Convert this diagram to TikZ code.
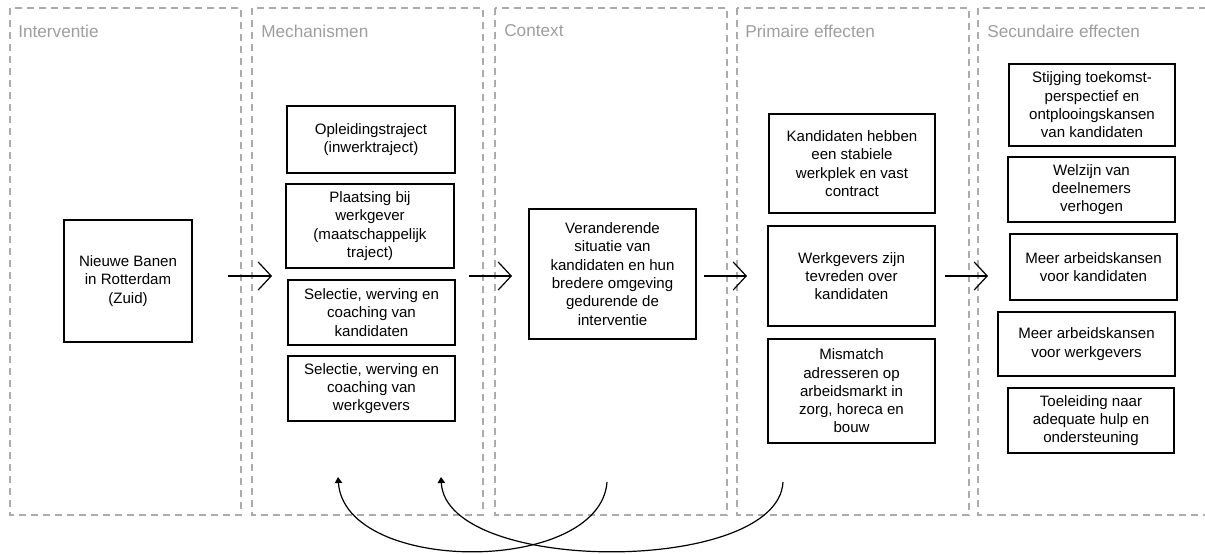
\documentclass[tikz,border=0pt]{standalone}
\usepackage{fontspec}
\setmainfont{Liberation Sans}
\usetikzlibrary{arrows.meta,positioning}

\begin{document}
\begin{tikzpicture}[x=0.75pt,y=-0.75pt,
        panel/.style={draw=black!33,line width=1.1pt,dash pattern=on 5.5pt off 3.5pt},
        title/.style={anchor=west,inner sep=0pt,text=black!38,font=\fontsize{12.9}{15}\selectfont},
        box/.style={draw,line width=1.1pt,align=center,inner sep=1pt,font=\fontsize{11.3}{13.7}\selectfont},
        sz/.style 2 args={minimum width=#1*0.75pt,minimum height=#2*0.75pt},
        flow/.style={-{Straight Barb[length=9.75pt,width=21pt]},line width=0.9pt},
        back/.style={-{Triangle[length=4.5pt,width=5.5pt]},line width=0.9pt}]

  \useasboundingbox (0,0) rectangle (1205,553);
  \clip (0,0) rectangle (1205,553);

  \draw[panel] (10,8) rectangle (241,515);
  \draw[panel] (252,8) rectangle (483,515);
  \draw[panel] (495,8) rectangle (727,515);
  \draw[panel] (737,8) rectangle (969,515);
  \draw[panel] (978,8) rectangle (1215,515);

  \node[title] (tint) at (18,31) {Interventie};
  \node[title] (tmech) at (261,31) {Mechanismen};
  \node[title] (tctx) at (504,31) {Context};
  \node[title] (tprim) at (745,31) {Primaire effecten};
  \node[title] (tsec) at (987,31) {Secundaire effecten};

  \node[box,sz={128}{122}] (nb) at (128,281) {Nieuwe Banen\\in Rotterdam\\(Zuid)};

  \node[box,sz={168}{67}] (opl) at (371,139.5) {Opleidingstraject\\(inwerktraject)};
  \node[box,sz={168}{84}] (plaats) at (370,226) {Plaatsing bij\\werkgever\\(maatschappelijk\\traject)};
  \node[box,sz={167}{65}] (selk) at (371.5,312.5) {Selectie, werving en\\coaching van\\kandidaten};
  \node[box,sz={167}{65}] (selw) at (371.5,388.5) {Selectie, werving en\\coaching van\\werkgevers};

  \node[box,sz={167}{130}] (ctx) at (612.5,274) {Veranderende\\situatie van\\kandidaten en hun\\bredere omgeving\\gedurende de\\interventie};

  \node[box,sz={166}{99}] (kand) at (852,163.5) {Kandidaten hebben\\een stabiele\\werkplek en vast\\contract};
  \node[box,sz={167}{100}] (wg) at (851.5,276) {Werkgevers zijn\\tevreden over\\kandidaten};
  \node[box,sz={167}{104}] (mism) at (851.5,391) {Mismatch\\adresseren op\\arbeidsmarkt in\\zorg, horeca en\\bouw};

  \node[box,sz={166}{82}] (stij) at (1092,105) {Stijging toekomst-\\perspectief en\\ontplooingskansen\\van kandidaten};
  \node[box,sz={167}{65}] (welz) at (1091.5,189.5) {Welzijn van\\deelnemers\\verhogen};
  \node[box,sz={167}{66}] (mkand) at (1093.5,267) {Meer arbeidskansen\\voor kandidaten};
  \node[box,sz={177}{64}] (mwerk) at (1086.5,344) {Meer arbeidskansen\\voor werkgevers};
  \node[box,sz={166}{65}] (toel) at (1091,420.5) {Toeleiding naar\\adequate hulp en\\ondersteuning};

  \coordinate (f1s) at (228,276);
  \coordinate (f1e) at (272,276);
  \coordinate (f2s) at (469,276);
  \coordinate (f2e) at (512,276);
  \coordinate (f3s) at (704,276);
  \coordinate (f3e) at (747,276);
  \coordinate (f4s) at (945,276);
  \coordinate (f4e) at (988,276);

  \path (f1s) edge[flow] (f1e)
        (f2s) edge[flow] (f2e)
        (f3s) edge[flow] (f3e)
        (f4s) edge[flow] (f4e);

  \coordinate (ctxfb) at (607,482);
  \coordinate (primfb) at (783,482);
  \coordinate (mechin1) at (338,477);
  \coordinate (mechin2) at (441,477);

  \draw[back] (ctxfb) .. controls +(-7,93) and +(7,98) .. (mechin1);
  \draw[back] (primfb) .. controls +(-5,93) and +(5,98) .. (mechin2);

\end{tikzpicture}
\end{document}
